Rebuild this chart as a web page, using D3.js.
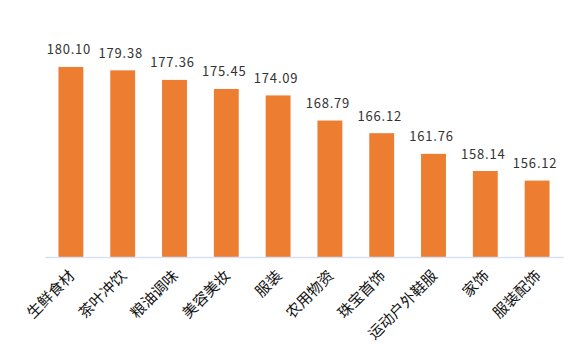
<!DOCTYPE html>
<html><head><meta charset="utf-8">
<script src="https://cdn.jsdelivr.net/npm/d3@7"></script>
<style>
html,body{margin:0;padding:0;background:#fff;}
svg{display:block;}
</style></head>
<body>
<svg id="chart" width="581" height="358"></svg>
<script>
const categories = ["生鲜食材","茶叶冲饮","粮油调味","美容美妆","服装","农用物资","珠宝首饰","运动户外鞋服","家饰","服装配饰"];
const values = [180.10,179.38,177.36,175.45,174.09,168.79,166.12,161.76,158.14,156.12];
const valueLabels = ["180.10","179.38","177.36","175.45","174.09","168.79","166.12","161.76","158.14","156.12"];

const svg = d3.select("#chart");
const x = d3.scaleBand().domain(categories).range([45, 563]).paddingInner(0.52).paddingOuter(0.26);
const y = d3.scaleLinear().domain([140, 190]).range([257, 20]);

svg.append("g").selectAll("rect").data(values).join("rect")
  .attr("x", (d,i) => x(categories[i]))
  .attr("width", x.bandwidth())
  .attr("y", d => y(d))
  .attr("height", d => y(140) - y(d))
  .attr("fill", "#ED7D31");

const axis = svg.append("g").attr("transform", `translate(0,${y(140)})`)
  .call(d3.axisBottom(x).tickSize(0).tickFormat(""));
axis.select(".domain").attr("stroke", "#D6E2F3").attr("stroke-width", 1.5);

svg.append("g").selectAll("text").data(values).join("text")
  .attr("x", (d,i) => x(categories[i]) + x.bandwidth()/2 - 2)
  .attr("y", d => y(d) - 12.5)
  .attr("text-anchor", "middle")
  .attr("font-family", "'Noto Sans CJK SC', 'Noto Sans', sans-serif")
  .attr("font-size", 13)
  .attr("letter-spacing", 0.8)
  .attr("fill", "#333")
  .text((d,i) => valueLabels[i]);

svg.append("g").selectAll("text").data(categories).join("text")
  .attr("transform", d => `translate(${x(d) + x.bandwidth()/2 + 1},${y(140) + 16}) rotate(-45)`)
  .attr("text-anchor", "end")
  .attr("dy", "0.35em")
  .attr("font-family", "'Noto Sans CJK SC', sans-serif")
  .attr("font-size", 15)
  .attr("fill", "#111")
  .text(d => d);
</script>
</body></html>
